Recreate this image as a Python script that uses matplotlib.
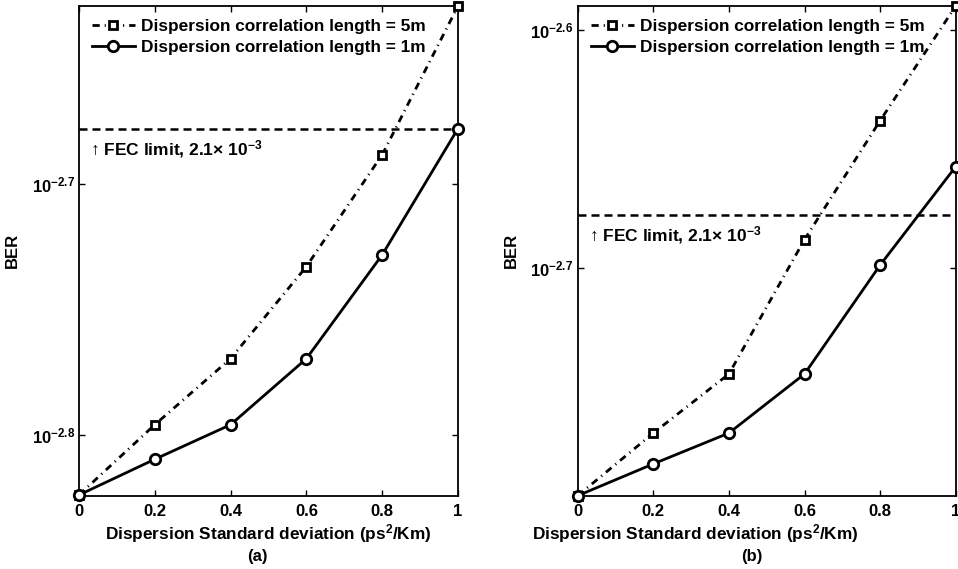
import matplotlib
matplotlib.use("Agg")
import numpy as np
from matplotlib import pyplot as plt

plt.rcParams['font.family'] = ['Liberation Sans', 'DejaVu Sans']
plt.rcParams['font.weight'] = 'bold'
plt.rcParams['mathtext.fontset'] = 'custom'
plt.rcParams['mathtext.rm'] = 'Liberation Sans:bold'
plt.rcParams['mathtext.it'] = 'Liberation Sans:bold'
plt.rcParams['mathtext.bf'] = 'Liberation Sans:bold'

# valeurs
sigma = [0, 0.2, 0.4, 0.6, 0.8, 1.0]
ber_a_5m = [1.50e-3, 1.60e-3, 1.70e-3, 1.85e-3, 2.05e-3, 2.35e-3]
ber_a_1m = [1.50e-3, 1.55e-3, 1.60e-3, 1.70e-3, 1.87e-3, 2.10e-3]
ber_b_5m = [1.60e-3, 1.70e-3, 1.80e-3, 2.05e-3, 2.30e-3, 2.57e-3]
ber_b_1m = [1.60e-3, 1.65e-3, 1.70e-3, 1.80e-3, 2.00e-3, 2.20e-3]
fec = 2.1e-3
xticks = [0, 0.2, 0.4, 0.6, 0.8, 1]
xticklabels = ['0', '0.2', '0.4', '0.6', '0.8', '1']
yticks_a = [-2.8, -2.7]
yticks_b = [-2.7, -2.6]
leg_5m = 'Dispersion correlation length = 5m'
leg_1m = 'Dispersion correlation length = 1m'
xlab = 'Dispersion Standard deviation (ps$^{2}$/Km)'

fig = plt.figure(figsize=(9.58, 5.69), dpi=100)
ax1 = fig.add_axes([79/958, 1 - 495.7/569, 379/958, 489.7/569])
ax2 = fig.add_axes([577.7/958, 1 - 495.7/569, 378/958, 489.7/569])


def panel(ax, y5, y1, yt, ylim, xlab_x, tag_x, tag):
    ax.set_yscale('log')
    ax.plot(sigma, y5, color='k', lw=2, ls=(0, (2.6, 1.8, 0.4, 1.8)),
            marker='s', ms=6, mfc='white', mec='k', mew=2, label=leg_5m,
            clip_on=False, zorder=3)
    ax.plot(sigma, y1, color='k', lw=2, ls='-',
            marker='o', ms=7.5, mfc='white', mec='k', mew=2, label=leg_1m,
            clip_on=False, zorder=3)
    ax.axhline(fec, color='k', lw=1.8, ls=(0, (3.2, 2.0)))
    ax.annotate('\u2191 FEC limit, 2.1\u00d7 10$^{\u22123}$',
                xy=(0.03, fec), xycoords=('axes fraction', 'data'),
                xytext=(0, -15), textcoords='offset points',
                fontsize=12.5, fontweight='bold', va='center', ha='left')
    ax.set_xlim(0, 1)
    ax.set_ylim(*ylim)
    ax.set_xticks(xticks)
    ax.set_xticklabels(xticklabels)
    ax.set_yticks([10 ** v for v in yt])
    ax.set_yticklabels(['$10^{\u2212%.1f}$' % (-v) for v in yt])
    ax.minorticks_off()
    ax.tick_params(direction='in', length=4, width=1, top=True, right=True,
                   labelsize=12, pad=6)
    ax.tick_params(axis='y', pad=3)
    for s in ax.spines.values():
        s.set_linewidth(1.3)
    ax.set_ylabel('BER', fontsize=12, fontweight='bold')
    ax.yaxis.set_label_coords(-59 / 379, 0.5)
    ax.set_xlabel(xlab, fontsize=12.4, fontweight='bold')
    ax.xaxis.set_label_coords(xlab_x, -26 / 489.7)
    ax.text(tag_x, -61 / 489.7, tag, transform=ax.transAxes, ha='center',
            va='center', fontsize=12, fontweight='bold')
    ax.legend(loc='upper left', frameon=False, fontsize=12.4, handlelength=2.5,
              handletextpad=0.35, borderaxespad=0.45, labelspacing=0.35,
              borderpad=0.3)


panel(ax1, ber_a_5m, ber_a_1m, yticks_a, (1.499e-3, 2.35e-3), 0.5, 0.47, '(a)')
panel(ax2, ber_b_5m, ber_b_1m, yticks_b, (1.6e-3, 2.57e-3), 0.31, 0.46, '(b)')

fig.savefig('out.png', dpi=100)
